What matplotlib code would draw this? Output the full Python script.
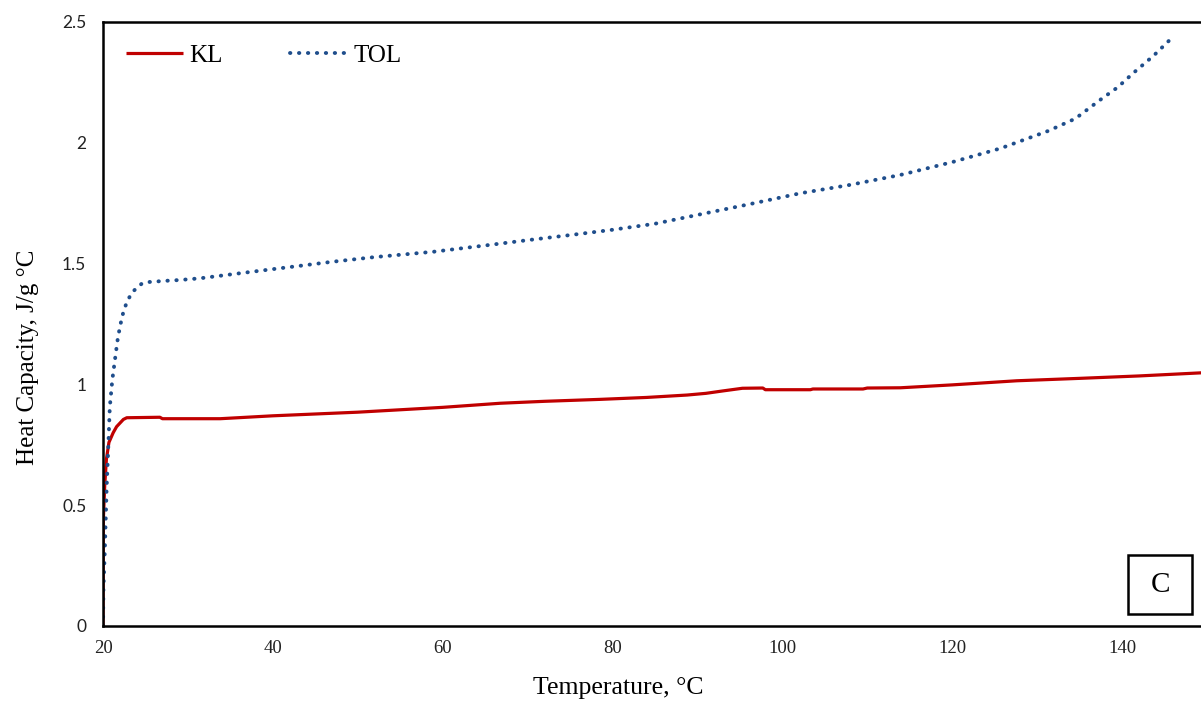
import matplotlib.pyplot as plt
from matplotlib.patches import Rectangle

# heat capacity curves, J/g °C against temperature, °C
kl_temp = [20.0, 20.04, 20.2, 20.4, 20.7, 21.2, 21.6, 22.0, 22.4, 22.8, 26.7, 27.0,
           33.8, 40, 50, 60, 66.8, 72, 78.5, 84, 88.8, 91, 93, 95.3, 97.7, 98.0,
           103.3, 103.6, 109.5, 110, 113.9, 120, 127.6, 135, 142, 149.4]
kl_cp = [0, 0.44, 0.58, 0.69, 0.76, 0.80, 0.825, 0.84, 0.855, 0.862, 0.864, 0.858,
         0.858, 0.87, 0.885, 0.905, 0.922, 0.93, 0.938, 0.946, 0.956, 0.963, 0.973, 0.984, 0.985, 0.978,
         0.978, 0.981, 0.981, 0.985, 0.986, 0.998, 1.015, 1.025, 1.035, 1.048]

tol_temp = [20.0, 20.05, 20.2, 20.43, 20.6, 20.8, 21.1, 21.4, 21.7, 22.0, 22.4, 22.8,
            23.4, 24.0, 24.6, 25.5, 27.5, 29.0, 31.4, 35, 39.3, 43, 47.1, 52, 58.9,
            65, 70, 75, 80, 85, 90.9, 96, 102.1, 108, 113.9, 120, 125.7, 131.3,
            134.5, 137.4, 139.5, 141.3, 143.7, 146.1]
tol_cp = [0, 0.15, 0.3, 0.575, 0.72, 0.906, 1.02, 1.10, 1.18, 1.24, 1.30, 1.34,
          1.38, 1.40, 1.418, 1.424, 1.429, 1.432, 1.439, 1.455, 1.474, 1.49, 1.508, 1.527, 1.549,
          1.575, 1.597, 1.618, 1.64, 1.665, 1.708, 1.745, 1.791, 1.826, 1.867, 1.92, 1.977, 2.049,
          2.10, 2.177, 2.23, 2.288, 2.36, 2.442]

x_ticks = [20, 40, 60, 80, 100, 120, 140]
y_ticks = [0, 0.5, 1, 1.5, 2, 2.5]
y_tick_labels = ['0', '0.5', '1', '1.5', '2', '2.5']

serif = 'Liberation Serif'
sans = 'Lato'

fig = plt.figure(figsize=(12.01, 7.02), dpi=100)
ax = fig.add_axes([103 / 1201, 76 / 702, 1098 / 1201, 604 / 702])

ax.plot(kl_temp, kl_cp, color='#C00000', lw=2.3, label='KL', solid_capstyle='butt')
ax.plot(tol_temp, tol_cp, color='#1F4E8C', lw=2.8, linestyle=(0, (0.1, 2.2)),
        dash_capstyle='round', label='TOL')

ax.set_xlim(20, 149.3)
ax.set_ylim(0, 2.5)
ax.set_xticks(x_ticks)
ax.set_xticklabels([str(t) for t in x_ticks], fontfamily=serif, fontsize=13.5, color='#222222')
ax.set_yticks(y_ticks)
ax.set_yticklabels(y_tick_labels, fontfamily=sans, fontsize=12.5, color='#222222')
ax.tick_params(axis='both', length=0)
ax.tick_params(axis='x', pad=10)
ax.tick_params(axis='y', pad=12)

for side in ['left', 'bottom', 'top']:
    ax.spines[side].set_linewidth(1.8)
    ax.spines[side].set_color('black')
ax.spines['right'].set_visible(False)

ax.set_xlabel('Temperature, °C', fontfamily=serif, fontsize=18.5)
ax.xaxis.set_label_coords(0.469, -0.085)
ax.set_ylabel('Heat Capacity, J/g °C', fontfamily=serif, fontsize=18)
ax.yaxis.set_label_coords(-0.058, 0.445)

ax.legend(loc='upper left', bbox_to_anchor=(0.0, 1.0), ncol=2, frameon=False,
          prop={'family': serif, 'size': 18}, handlelength=2.3, handletextpad=0.25,
          columnspacing=2.7)

# panel letter in a square frame, bottom right
box = Rectangle((1128 / 1201, (702 - 614) / 702), 64 / 1201, 59 / 702, transform=fig.transFigure,
                facecolor='white', edgecolor='black', linewidth=1.8, zorder=5)
fig.patches.append(box)
fig.text(1160 / 1201, (702 - 585) / 702, 'C', ha='center', va='center',
         fontfamily=serif, fontsize=21, zorder=6)

plt.savefig('out.png', dpi=100)
